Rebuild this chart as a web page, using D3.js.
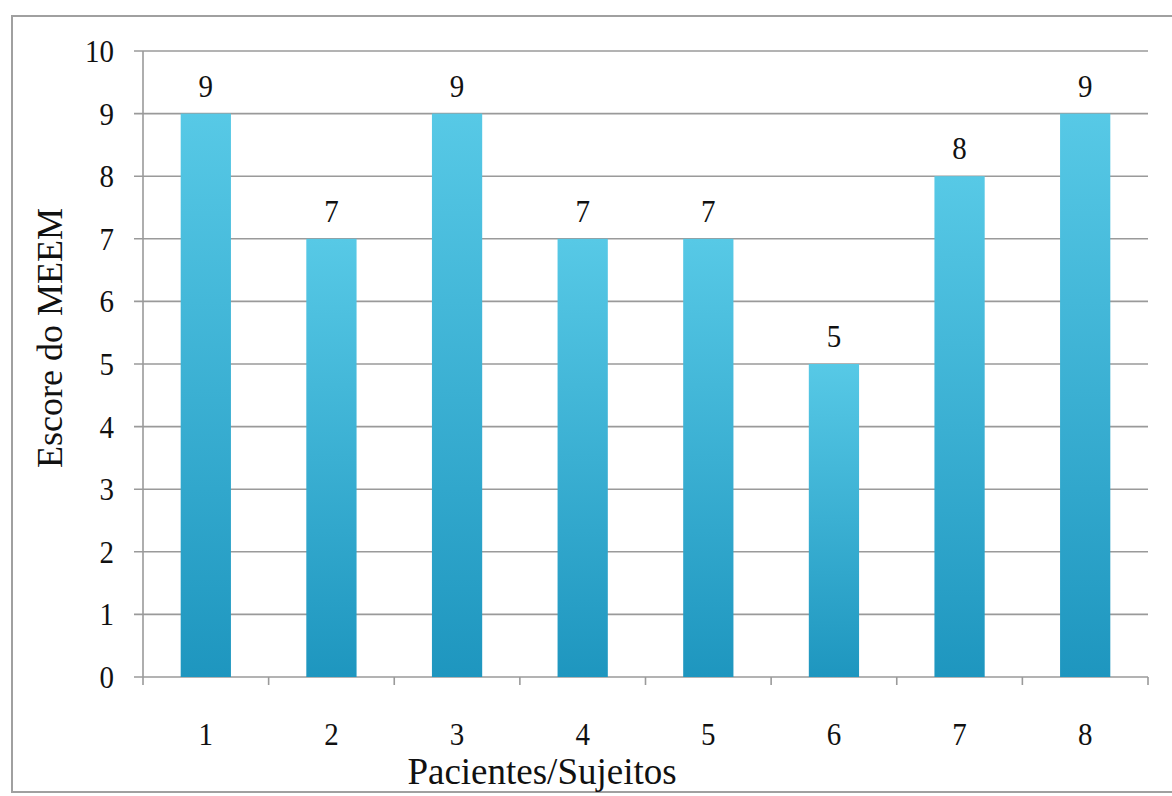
<!DOCTYPE html>
<meta charset="utf-8">
<script src="https://d3js.org/d3.v7.min.js"></script>
<style>
  body { margin: 0; background: #fff; }
  text { font-family: "Liberation Serif", "Times New Roman", serif; fill: #111; }
</style>
<div id="chart"></div>
<script>
    // data
    var pacientes = ["1", "2", "3", "4", "5", "6", "7", "8"];
    var escores = [9, 7, 9, 7, 7, 5, 8, 9];
    var yTicks = [0, 1, 2, 3, 4, 5, 6, 7, 8, 9, 10];

    var width = 1172, height = 796;
    var margin = {left: 143, right: 24, top: 51, bottom: 119};

    var svg = d3.select("#chart").append("svg")
        .attr("width", width)
        .attr("height", height);

    // outer frame of the chart area
    svg.append("rect")
        .attr("x", 12).attr("y", 16)
        .attr("width", 1170).attr("height", 776)
        .attr("fill", "none")
        .attr("stroke", "#a0a0a0")
        .attr("stroke-width", 2);

    var defs = svg.append("defs");
    var grad = defs.append("linearGradient")
        .attr("id", "barGrad")
        .attr("x1", 0).attr("y1", 0).attr("x2", 0).attr("y2", 1);
    grad.append("stop").attr("offset", "0%").attr("stop-color", "#57c9e6");
    grad.append("stop").attr("offset", "100%").attr("stop-color", "#1e96bf");

    var x = d3.scaleBand()
        .domain(pacientes)
        .range([margin.left, 1148])
        .paddingInner(0.6)
        .paddingOuter(0.3);

    var y = d3.scaleLinear()
        .domain([0, 10])
        .range([height - margin.bottom, margin.top]);

    // numbers in the scan look a little stretched vertically
    function numText(sel, px, py) {
        sel.attr("transform", (d, i) => "translate(" + px(d, i) + "," + py(d, i) + ") scale(1,1.12)")
            .attr("font-size", 29)
            .attr("text-anchor", "middle")
            .text(d => d);
    }

    // horizontal gridlines with small outward ticks
    svg.append("g")
        .selectAll("line")
        .data(yTicks)
        .enter()
        .append("line")
        .attr("x1", margin.left - 9)
        .attr("x2", x.range()[1])
        .attr("y1", d => y(d))
        .attr("y2", d => y(d))
        .attr("stroke", "#9a9a9a")
        .attr("stroke-width", 1.6);

    // y axis line
    svg.append("line")
        .attr("x1", margin.left).attr("x2", margin.left)
        .attr("y1", y(10)).attr("y2", y(0))
        .attr("stroke", "#9a9a9a")
        .attr("stroke-width", 1.6);

    // x ticks at band boundaries
    var step = x.step();
    var bounds = d3.range(pacientes.length + 1).map(i => x.range()[0] + i * step);
    svg.append("g")
        .selectAll("line")
        .data(bounds)
        .enter()
        .append("line")
        .attr("x1", d => d).attr("x2", d => d)
        .attr("y1", y(0)).attr("y2", y(0) + 8)
        .attr("stroke", "#9a9a9a")
        .attr("stroke-width", 1.6);

    // bars
    svg.append("g")
        .selectAll("rect")
        .data(escores)
        .enter()
        .append("rect")
        .attr("x", (d, i) => x(pacientes[i]))
        .attr("width", x.bandwidth())
        .attr("y", d => y(d))
        .attr("height", d => y(0) - y(d))
        .attr("fill", "url(#barGrad)");

    // value labels
    svg.append("g")
        .selectAll("text")
        .data(escores)
        .enter()
        .append("text")
        .call(numText, (d, i) => x(pacientes[i]) + x.bandwidth() / 2, d => y(d) - 17);

    // y tick labels
    svg.append("g")
        .selectAll("text")
        .data(yTicks)
        .enter()
        .append("text")
        .call(numText, d => margin.left - 29 - (d >= 10 ? 14.5 : 7.25), d => y(d) + 11);

    // x tick labels
    svg.append("g")
        .selectAll("text")
        .data(pacientes)
        .enter()
        .append("text")
        .call(numText, d => x(d) + x.bandwidth() / 2, d => y(0) + 68);

    // axis titles
    svg.append("text")
        .attr("x", 542)
        .attr("y", 784)
        .attr("text-anchor", "middle")
        .attr("font-size", 37)
        .text("Pacientes/Sujeitos");

    svg.append("text")
        .attr("transform", "translate(62," + 338 + ") rotate(-90)")
        .attr("text-anchor", "middle")
        .attr("font-size", 36)
        .text("Escore do MEEM");
</script>
